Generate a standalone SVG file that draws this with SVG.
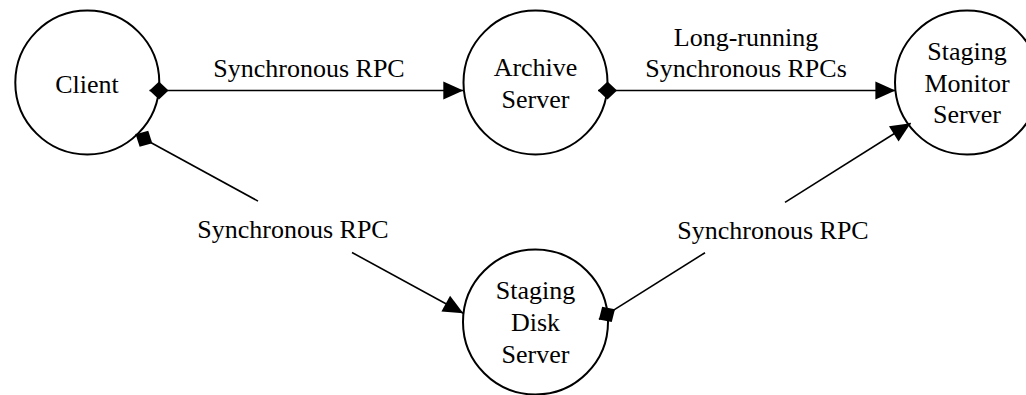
<svg xmlns="http://www.w3.org/2000/svg" width="1026" height="395" viewBox="0 0 1026 395">
<style>
.node circle{fill:#fff;stroke:#000;stroke-width:2}
text{font-family:"Liberation Serif","Times New Roman",serif;font-size:26px;fill:#000;text-anchor:middle}
.edge{fill:none;stroke:#000;stroke-width:1.6}
</style>
<defs>
<marker id="diamond" markerUnits="userSpaceOnUse" markerWidth="20" markerHeight="20" viewBox="0 -10 20 20" refX="0" refY="0" orient="auto" overflow="visible">
<path d="M0,0 L9.5,-9 L19,0 L9.5,9 Z" fill="#000"/>
</marker>
<marker id="arrow" markerUnits="userSpaceOnUse" markerWidth="21" markerHeight="20" viewBox="0 -10 21 20" refX="20" refY="0" orient="auto" overflow="visible">
<path d="M0,-9 L20,0 L0,9 Z" fill="#000"/>
</marker>
</defs>
<rect width="1026" height="395" fill="#fff"/>
<g id="client" class="node">
<circle cx="87.3" cy="82.5" r="72"/>
<text x="87" y="92.5">Client</text>
</g>
<g id="archive" class="node">
<circle cx="535.5" cy="82.5" r="72"/>
<text x="535.5" y="75.5">Archive</text>
<text x="535.5" y="107.5">Server</text>
</g>
<g id="monitor" class="node">
<circle cx="967" cy="82.5" r="72"/>
<text x="967" y="60">Staging</text>
<text x="967" y="91.5">Monitor</text>
<text x="967" y="123">Server</text>
</g>
<g id="disk" class="node">
<circle cx="535.5" cy="322" r="72.5"/>
<text x="535.5" y="299">Staging</text>
<text x="535.5" y="331">Disk</text>
<text x="535.5" y="363">Server</text>
</g>
<g id="connectors">
<path class="edge" d="M149.5,90.5 L463.3,90.5" marker-start="url(#diamond)" marker-end="url(#arrow)"/>
<text x="309" y="77">Synchronous RPC</text>
<path class="edge" d="M598,90.5 L895.4,90.5" marker-start="url(#diamond)" marker-end="url(#arrow)"/>
<text x="746" y="46">Long-running</text>
<text x="746" y="77">Synchronous RPCs</text>
<path class="edge" d="M135.6,134.2 L258,201.1" marker-start="url(#diamond)"/>
<path class="edge" d="M352,252.5 L463.3,313.3" marker-end="url(#arrow)"/>
<text x="293" y="237.5">Synchronous RPC</text>
<path class="edge" d="M598.9,319.4 L705,252.7" marker-start="url(#diamond)"/>
<path class="edge" d="M785,202.4 L910.7,123.3" marker-end="url(#arrow)"/>
<text x="773" y="238.5">Synchronous RPC</text>
</g>
</svg>
